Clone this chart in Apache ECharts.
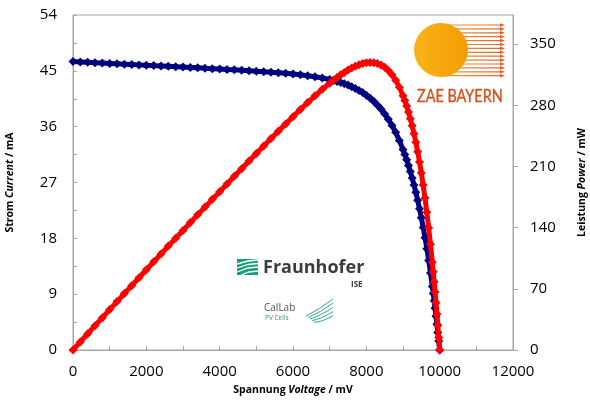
<!DOCTYPE html>
<html>
<head>
<meta charset="utf-8">
<script src="https://cdn.jsdelivr.net/npm/echarts@6/dist/echarts.min.js"></script>
<style>html,body{margin:0;padding:0;background:#fff}#c{width:590px;height:404px}</style>
</head>
<body>
<div id="c"></div>
<script>
// Voltage (mV)
const voltage = [0,200,400,600,800,1000,1200,1400,1600,1800,2000,2200,2400,2600,2800,3000,3200,3400,3600,3800,4000,4200,4400,4600,4800,5000,5200,5400,5600,5800,6000,6200,6400,6600,6800,7000,
7100,7200,7300,7400,7500,7600,7700,7800,7900,8000,8100,8200,8300,8400,8500,8600,8700,8800,8900,9000,
9050,9100,9150,9200,9250,9300,9350,9400,9450,9500,9550,9600,9650,9700,9750,9800,
9825,9850,9875,9900,9925,9950,9975,10000];
// Current (mA)
const current = [46.50,46.44,46.38,46.32,46.26,46.20,46.14,46.08,46.02,45.96,45.90,45.84,45.78,45.72,45.66,45.60,45.54,45.48,45.41,45.35,45.29,45.22,45.16,45.09,45.02,44.94,44.87,44.79,44.70,44.60,44.49,44.37,44.22,44.05,43.85,43.60,
43.46,43.30,43.12,42.92,42.70,42.45,42.16,41.85,41.49,41.08,40.62,40.09,39.50,38.83,38.06,37.19,36.20,35.08,33.79,32.33,
31.53,30.67,29.75,28.77,27.72,26.61,25.41,24.13,22.77,21.32,19.76,18.10,16.33,14.43,12.41,10.24,
9.10,7.93,6.72,5.46,4.16,2.82,1.44,0];
// Power (mW)
const power = [0,9.29,18.55,27.79,37.01,46.20,55.37,64.51,73.63,82.73,91.80,100.85,109.87,118.87,127.85,136.80,145.73,154.63,163.48,172.33,181.16,189.92,198.70,207.41,216.10,224.70,233.32,241.87,250.32,258.68,266.94,275.09,283.01,290.73,298.18,305.20,
308.57,311.76,314.78,317.61,320.25,322.62,324.63,326.43,327.77,328.64,329.02,328.74,327.85,326.17,323.51,319.83,314.94,308.70,300.73,290.97,
285.35,279.10,272.21,264.68,256.41,247.47,237.58,226.82,215.18,202.54,188.71,173.76,157.58,139.97,121.00,100.35,
89.41,78.11,66.36,54.05,41.29,28.06,14.36,0];

const voltageLabels = [0,2000,4000,6000,8000,10000,12000];
const currentLabels = [0,9,18,27,36,45,54];
const powerLabels = [0,70,140,210,280,350];

const FONT = 'Open Sans';
const AXIS_GRAY = '#a6a6a6';
const BLUE = '#00007f';
const RED = '#ff0000';

const chart = echarts.init(document.getElementById('c'), null, {renderer: 'canvas'});

const rays = [];
for (let i = 0; i < 14; i++) {
  const y = 25 + i * 3.9;
  rays.push({type: 'line', z: 1, shape: {x1: 441, y1: y, x2: 502, y2: y},
    style: {stroke: new echarts.graphic.LinearGradient(0, 0, 1, 0, [{offset: 0, color: '#f2a23a'}, {offset: 1, color: '#e0602c'}]), lineWidth: 1.2}});
  rays.push({type: 'polygon', z: 1, shape: {points: [[500, y - 1.8], [505, y], [500, y + 1.8]]}, style: {fill: '#e0602c'}});
}
const swoosh = [];
for (let i = 0; i < 5; i++) {
  swoosh.push({type: 'bezierCurve', z: 2,
    shape: {x1: 306 + i * 2, y1: 316 + i * 1.5, cpx1: 320, cpy1: 309 + i * 3.5, x2: 333, y2: 299 + i * 4.2},
    style: {stroke: '#179c7d', lineWidth: 0.9, fill: null}});
}
const nameRich = {
  b: {fontFamily: FONT, fontSize: 10.5, fontWeight: 'bold', color: '#000'},
  bi: {fontFamily: FONT, fontSize: 10.5, fontWeight: 'bold', fontStyle: 'italic', color: '#000'}
};

chart.setOption({
  animation: false,
  backgroundColor: '#fff',
  grid: {left: 73, right: 77, top: 15, bottom: 54, show: true, borderColor: AXIS_GRAY, borderWidth: 1, containLabel: false, outerBoundsMode: 'none'},
  xAxis: {
    type: 'value', min: 0, max: 12000, interval: 1000,
    name: '{b|Spannung }{bi|Voltage}{b| / mV}', nameLocation: 'middle', nameGap: 35,
    nameTextStyle: {rich: nameRich},
    axisLine: {lineStyle: {color: AXIS_GRAY}},
    axisTick: {inside: true, length: 4, lineStyle: {color: AXIS_GRAY}},
    axisLabel: {customValues: voltageLabels, formatter: v => String(v), fontFamily: FONT, fontSize: 15, color: '#000', margin: 14},
    splitLine: {show: false}
  },
  yAxis: [{
    type: 'value', min: 0, max: 54, interval: 4.5, position: 'left',
    name: '{b|Strom }{bi|Current}{b| / mA}', nameLocation: 'middle', nameGap: 57, nameRotate: 90,
    nameTextStyle: {rich: nameRich},
    axisLine: {show: true, lineStyle: {color: AXIS_GRAY}},
    axisTick: {show: true, inside: true, length: 4, lineStyle: {color: AXIS_GRAY}},
    axisLabel: {customValues: currentLabels, formatter: v => String(v), fontFamily: FONT, fontSize: 15, color: '#000', margin: 16},
    splitLine: {show: false}
  }, {
    type: 'value', min: 0, max: 383.25, position: 'right',
    name: '{b|Leistung }{bi|Power}{b| / mW}', nameLocation: 'middle', nameGap: 64, nameRotate: 90,
    nameTextStyle: {rich: nameRich},
    axisLine: {show: true, lineStyle: {color: AXIS_GRAY}},
    axisTick: {show: true, inside: false, length: 5, customValues: powerLabels, lineStyle: {color: AXIS_GRAY}},
    axisLabel: {customValues: powerLabels, formatter: v => String(v), fontFamily: FONT, fontSize: 15, color: '#000', margin: 17},
    splitLine: {show: false}
  }],
  series: [{
    name: 'Current', type: 'line', yAxisIndex: 0,
    data: voltage.map((v, i) => [v, current[i]]),
    symbol: 'diamond', symbolSize: 9, showSymbol: true,
    itemStyle: {color: BLUE}, lineStyle: {color: BLUE, width: 5}, z: 2
  }, {
    name: 'Power', type: 'line', yAxisIndex: 1,
    data: voltage.map((v, i) => [v, power[i]]),
    symbol: 'diamond', symbolSize: 9, showSymbol: true,
    itemStyle: {color: RED}, lineStyle: {color: RED, width: 5}, z: 3
  }],
  graphic: [].concat(rays, [
    {type: 'circle', z: 2, shape: {cx: 441, cy: 50, r: 27},
      style: {fill: new echarts.graphic.LinearGradient(0, 0, 1, 0, [{offset: 0, color: '#f8b418'}, {offset: 1, color: '#f29c05'}])}},
    {type: 'text', z: 2, x: 417, y: 96, scaleX: 0.8, style: {x: 0, y: 0, text: 'ZAE BAYERN', font: '18px Lato', fill: '#d4501c', verticalAlign: 'middle', stroke: '#d4501c', lineWidth: 0.4}},
    {type: 'rect', z: 2, shape: {x: 237, y: 259, width: 21, height: 16}, style: {fill: '#179c7d'}},
    {type: 'polyline', z: 3, shape: {points: [[237, 264], [248, 261], [258, 260]]}, style: {stroke: '#fff', lineWidth: 1.3, fill: null}},
    {type: 'polyline', z: 3, shape: {points: [[237, 268], [248, 264.5], [258, 263.5]]}, style: {stroke: '#fff', lineWidth: 1.3, fill: null}},
    {type: 'polyline', z: 3, shape: {points: [[237, 272], [248, 268], [258, 267]]}, style: {stroke: '#fff', lineWidth: 1.3, fill: null}},
    {type: 'polyline', z: 3, shape: {points: [[241, 275], [249, 272], [258, 271]]}, style: {stroke: '#fff', lineWidth: 1.3, fill: null}},
    {type: 'text', z: 2, style: {x: 263, y: 268, text: 'Fraunhofer', font: 'bold 18px "Open Sans"', fill: '#3c3c3c', verticalAlign: 'middle'}},
    {type: 'text', z: 2, style: {x: 351, y: 285, text: 'ISE', font: 'bold 8px "Open Sans"', fill: '#3c3c3c', verticalAlign: 'middle'}},
    {type: 'text', z: 2, style: {x: 264, y: 308, text: 'CalLab', font: '10px "Open Sans"', fill: '#505050', verticalAlign: 'middle'}},
    {type: 'text', z: 2, style: {x: 265, y: 318, text: 'PV Cells', font: '6.5px "Open Sans"', fill: '#3f8f7f', verticalAlign: 'middle'}}
  ], swoosh)
});
</script>
</body>
</html>
